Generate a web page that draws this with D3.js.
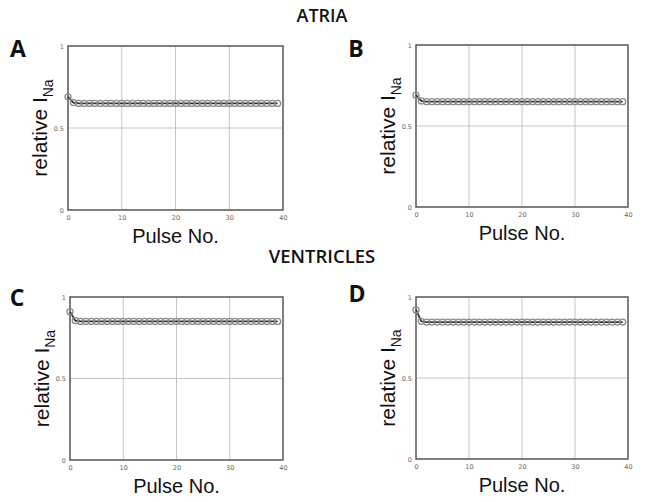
<!DOCTYPE html>
<html><head><meta charset="utf-8">
<script src="https://cdn.jsdelivr.net/npm/d3@7"></script>
<style>body{margin:0;background:#fff}svg{display:block}</style>
</head><body>
<script>
const pulses = d3.range(0, 40);
const seriesA = [0.69,0.655,0.65,0.65,0.65,0.65,0.65,0.65,0.65,0.65,0.65,0.65,0.65,0.65,0.65,0.65,0.65,0.65,0.65,0.65,0.65,0.65,0.65,0.65,0.65,0.65,0.65,0.65,0.65,0.65,0.65,0.65,0.65,0.65,0.65,0.65,0.65,0.65,0.65,0.65];
const seriesB = [0.69,0.655,0.65,0.65,0.65,0.65,0.65,0.65,0.65,0.65,0.65,0.65,0.65,0.65,0.65,0.65,0.65,0.65,0.65,0.65,0.65,0.65,0.65,0.65,0.65,0.65,0.65,0.65,0.65,0.65,0.65,0.65,0.65,0.65,0.65,0.65,0.65,0.65,0.65,0.65];
const seriesC = [0.91,0.855,0.85,0.85,0.85,0.85,0.85,0.85,0.85,0.85,0.85,0.85,0.85,0.85,0.85,0.85,0.85,0.85,0.85,0.85,0.85,0.85,0.85,0.85,0.85,0.85,0.85,0.85,0.85,0.85,0.85,0.85,0.85,0.85,0.85,0.85,0.85,0.85,0.85,0.85];
const seriesD = [0.92,0.85,0.845,0.845,0.845,0.845,0.845,0.845,0.845,0.845,0.845,0.845,0.845,0.845,0.845,0.845,0.845,0.845,0.845,0.845,0.845,0.845,0.845,0.845,0.845,0.845,0.845,0.845,0.845,0.845,0.845,0.845,0.845,0.845,0.845,0.845,0.845,0.845,0.845,0.845];
const xTicks = [0, 10, 20, 30, 40];
const yTicks = [0, 0.5, 1];
const yTickLabels = ["0", "0.5", "1"];
const panelLetters = ["A", "B", "C", "D"];
const sectionTitles = ["ATRIA", "VENTRICLES"];

const panels = [
  {letter: panelLetters[0], data: seriesA, l: 68, r: 283, t: 46, b: 210, lx: 18, ly: 57},
  {letter: panelLetters[1], data: seriesB, l: 416, r: 628, t: 45, b: 207, lx: 356, ly: 57},
  {letter: panelLetters[2], data: seriesC, l: 70, r: 283, t: 297, b: 460, lx: 17, ly: 306},
  {letter: panelLetters[3], data: seriesD, l: 416, r: 628, t: 297, b: 459, lx: 357, ly: 302}
];

const svg = d3.select("body").append("svg").attr("width", 645).attr("height", 502);

svg.append("text").attr("x", 322).attr("y", 22).attr("text-anchor", "middle")
  .style("font-family", "'Open Sans', sans-serif").style("font-size", "18px").style("font-weight", 600).attr("fill", "#111")
  .text(sectionTitles[0]);
svg.append("text").attr("x", 322).attr("y", 263).attr("text-anchor", "middle")
  .style("font-family", "'Open Sans', sans-serif").style("font-size", "18.5px").style("font-weight", 600).attr("fill", "#111")
  .text(sectionTitles[1]);

panels.forEach(p => {
  const x = d3.scaleLinear().domain([0, 40]).range([p.l, p.r]);
  const y = d3.scaleLinear().domain([0, 1]).range([p.b, p.t]);
  const g = svg.append("g");

  g.selectAll(".gx").data(xTicks.slice(1, -1)).join("line")
    .attr("x1", d => x(d)).attr("x2", d => x(d)).attr("y1", p.t).attr("y2", p.b)
    .attr("stroke", "#c4c4c4").attr("stroke-width", 1);
  g.selectAll(".gy").data([0.5]).join("line")
    .attr("x1", p.l).attr("x2", p.r).attr("y1", d => y(d)).attr("y2", d => y(d))
    .attr("stroke", "#c4c4c4").attr("stroke-width", 1);

  const ax = g.append("g").attr("transform", `translate(0,${p.b})`)
    .call(d3.axisBottom(x).tickValues(xTicks).tickSize(0).tickPadding(5).tickFormat(d3.format("d")));
  ax.select(".domain").remove();
  ax.selectAll("text").style("font-family", "'DejaVu Sans', sans-serif").style("font-size", "6.5px").attr("fill", "#666");
  const ay = g.append("g").attr("transform", `translate(${p.l},0)`)
    .call(d3.axisLeft(y).tickValues(yTicks).tickSize(0).tickPadding(4).tickFormat((d, i) => yTickLabels[i]));
  ay.select(".domain").remove();
  ay.selectAll("text").style("font-family", "'DejaVu Sans', sans-serif").style("font-size", "6.5px").attr("fill", "#666");

  g.append("rect").attr("x", p.l).attr("y", p.t).attr("width", p.r - p.l).attr("height", p.b - p.t)
    .attr("fill", "none").attr("stroke", "#555").attr("stroke-width", 1.5);

  const line = d3.line().x((d, i) => x(pulses[i])).y(d => y(d));
  g.append("path").datum(p.data).attr("d", line).attr("fill", "none").attr("stroke", "#333").attr("stroke-width", 1.8);
  g.selectAll("circle").data(p.data).join("circle")
    .attr("cx", (d, i) => x(pulses[i])).attr("cy", d => y(d)).attr("r", 3)
    .attr("fill", "none").attr("stroke", "#8a8a8a").attr("stroke-width", 1.3);

  g.append("text").attr("x", (p.l + p.r) / 2).attr("y", p.b + 33).attr("text-anchor", "middle")
    .style("font-family", "'Liberation Sans', Arial, sans-serif").style("font-size", "20px").attr("fill", "#111")
    .text("Pulse No.");
  const yl = g.append("text").attr("transform", `translate(${p.l - 21},${(p.t + p.b) / 2}) rotate(-90)`)
    .attr("text-anchor", "middle")
    .style("font-family", "'Liberation Sans', Arial, sans-serif").style("font-size", "21px").attr("fill", "#111");
  yl.append("tspan").text("relative I");
  yl.append("tspan").attr("dy", 6).style("font-size", "14px").text("Na");

  svg.append("text").attr("x", p.lx).attr("y", p.ly).attr("text-anchor", "middle")
    .style("font-family", "'Open Sans', sans-serif").style("font-weight", "bold").style("font-size", "23px").attr("fill", "#111")
    .text(p.letter);
});
</script>
</body></html>
